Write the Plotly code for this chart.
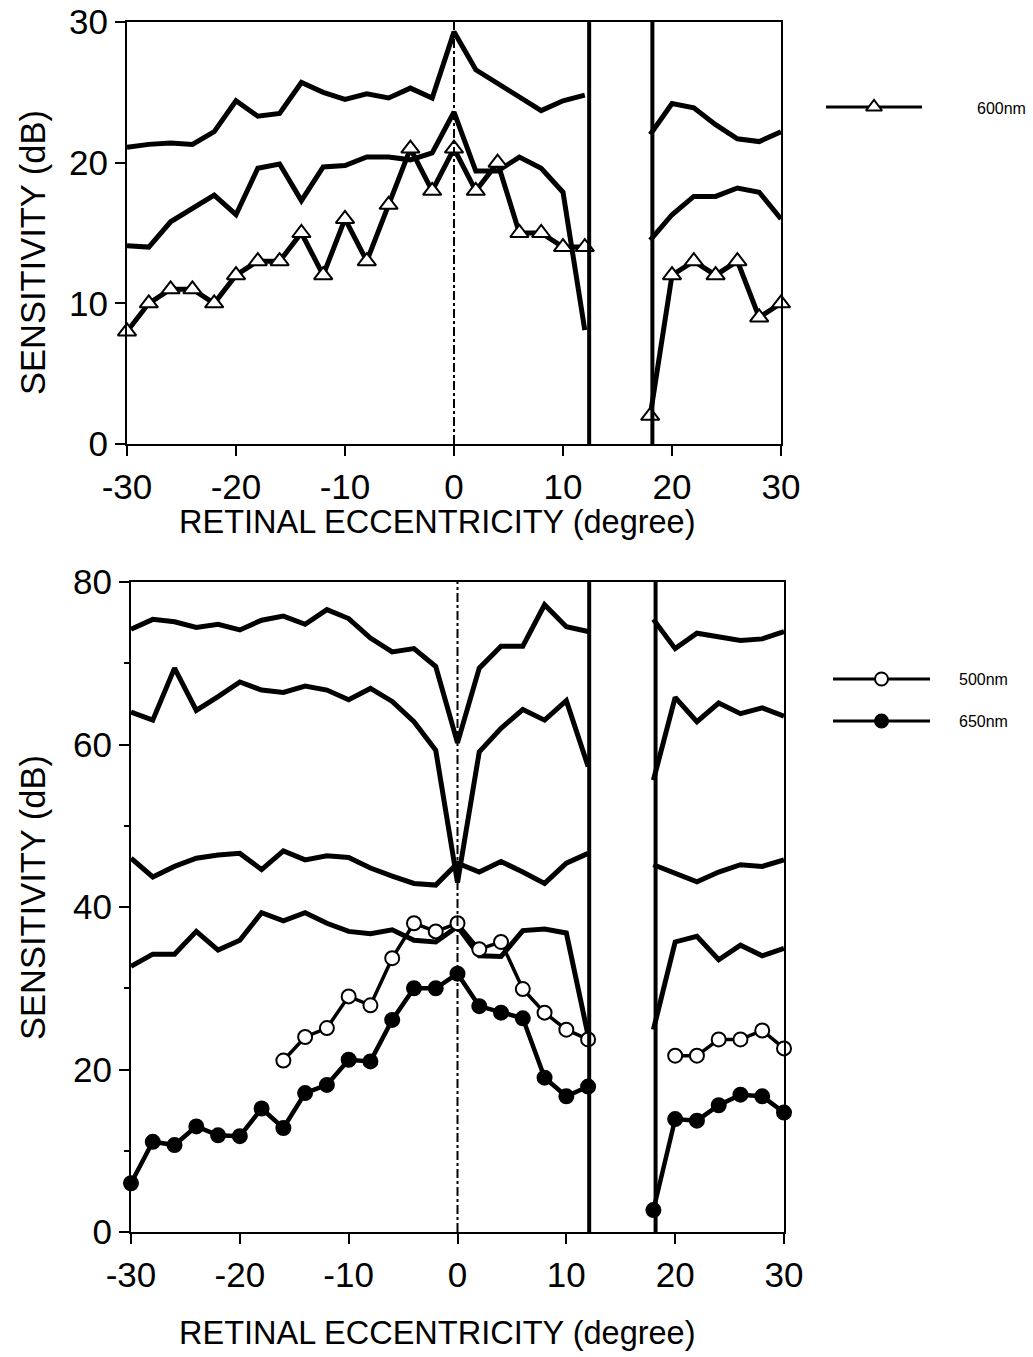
import plotly.graph_objects as go

# ---------------- data ----------------
X_LEFT = [-30, -28, -26, -24, -22, -20, -18, -16, -14, -12, -10, -8, -6, -4, -2, 0, 2, 4, 6, 8, 10, 12]
X_RIGHT = [18, 20, 22, 24, 26, 28, 30]

# top panel (600 nm stimulus)
top_upper_left = [21.1, 21.3, 21.4, 21.3, 22.2, 24.4, 23.3, 23.5, 25.7, 25.0, 24.5, 24.9, 24.6, 25.3, 24.6, 29.3, 26.6, 25.6, 24.6, 23.7, 24.4, 24.8]
top_upper_right = [22.0, 24.2, 23.9, 22.7, 21.7, 21.5, 22.2]
top_middle_left = [14.1, 14.0, 15.8, 16.7, 17.7, 16.3, 19.6, 19.9, 17.3, 19.7, 19.8, 20.4, 20.4, 20.2, 20.7, 23.6, 19.4, 19.4, 20.4, 19.6, 17.9, 8.1]
top_middle_right = [14.5, 16.3, 17.6, 17.6, 18.2, 17.9, 16.0]
nm600_left = [8, 10, 11, 11, 10, 12, 13, 13, 15, 12, 16, 13, 17, 21, 18, 21, 18, 20, 15, 15, 14, 14]
nm600_right = [2, 12, 13, 12, 13, 9, 10]

# bottom panel (500 nm / 650 nm)
bot_c1_left = [74.2, 75.4, 75.1, 74.4, 74.8, 74.1, 75.3, 75.8, 74.8, 76.6, 75.5, 73.1, 71.4, 71.8, 69.6, 60.2, 69.4, 72.1, 72.1, 77.2, 74.5, 73.9]
bot_c1_right = [75.4, 71.8, 73.7, 73.3, 72.8, 73.0, 73.9]
bot_c2_left = [64.0, 63.0, 69.4, 64.2, 65.9, 67.7, 66.7, 66.4, 67.2, 66.7, 65.5, 66.9, 65.3, 62.8, 59.3, 43.0, 59.1, 62.0, 64.3, 63.0, 65.4, 57.3]
bot_c2_right = [55.6, 65.8, 62.8, 65.1, 63.8, 64.5, 63.5]
bot_c3_left = [46.0, 43.7, 45.0, 46.0, 46.4, 46.6, 44.6, 46.9, 45.8, 46.3, 46.1, 44.8, 43.8, 42.9, 42.7, 45.4, 44.3, 45.6, 44.3, 42.9, 45.4, 46.6]
bot_c3_right = [45.2, 44.1, 43.1, 44.3, 45.2, 45.0, 45.8]
bot_c4_left = [32.7, 34.2, 34.2, 37.0, 34.7, 35.9, 39.3, 38.3, 39.3, 38.0, 37.0, 36.7, 37.2, 35.9, 35.7, 37.6, 34.0, 33.9, 37.1, 37.3, 36.8, 24.2]
bot_c4_right = [24.9, 35.7, 36.4, 33.5, 35.3, 34.0, 34.9]

X500_LEFT = [-16, -14, -12, -10, -8, -6, -4, -2, 0, 2, 4, 6, 8, 10, 12]
X500_RIGHT = [20, 22, 24, 26, 28, 30]
nm500_left = [21.1, 24.0, 25.1, 29.0, 27.9, 33.7, 38.0, 37.0, 38.0, 34.8, 35.7, 29.9, 27.0, 24.9, 23.7]
nm500_right = [21.7, 21.7, 23.7, 23.7, 24.8, 22.6]
nm650_left = [6.0, 11.1, 10.7, 13.0, 11.9, 11.8, 15.2, 12.8, 17.1, 18.1, 21.2, 21.0, 26.1, 30.0, 30.0, 31.8, 27.8, 27.0, 26.3, 19.0, 16.7, 17.9]
nm650_right = [2.7, 13.9, 13.7, 15.6, 16.9, 16.7, 14.7]

BLIND_TOP = [12.4, 18.2]
BLIND_BOT = [12.1, 18.2]

TOP_YTICKS = [0, 10, 20, 30]
BOT_YTICKS = [0, 20, 40, 60, 80]
XTICKS = [-30, -20, -10, 0, 10, 20, 30]
XTICK_TEXT = ["-30", "-20", "-10", "0", "10", "20", "30"]

# ---------------- figure ----------------
W, H = 1033, 1357
FONT = "Liberation Sans"


def px(x):
    return x / W


def py(y):
    return 1 - y / H


def joined(xl, yl, xr, yr):
    return list(xl) + [None] + list(xr), list(yl) + [None] + list(yr)


fig = go.Figure()

LW = 5


def add_curve(xl, yl, xr, yr, xa, ya, width=LW):
    xs, ys = joined(xl, yl, xr, yr)
    fig.add_trace(go.Scatter(x=xs, y=ys, mode="lines", xaxis=xa, yaxis=ya,
                             line=dict(color="black", width=width), showlegend=False,
                             connectgaps=False, hoverinfo="skip"))


def add_markers(xl, yl, xr, yr, xa, ya, symbol, fill, size, width=3.5):
    xs, ys = joined(xl, yl, xr, yr)
    fig.add_trace(go.Scatter(x=xs, y=ys, mode="lines+markers", xaxis=xa, yaxis=ya,
                             line=dict(color="black", width=width),
                             marker=dict(symbol=symbol, size=size, color=fill,
                                         line=dict(color="black", width=2)),
                             cliponaxis=False, showlegend=False, connectgaps=False))


# top panel
add_curve(X_LEFT, top_upper_left, X_RIGHT, top_upper_right, "x", "y")
add_curve(X_LEFT, top_middle_left, X_RIGHT, top_middle_right, "x", "y")
add_markers(X_LEFT, nm600_left, X_RIGHT, nm600_right, "x", "y", "triangle-up", "white", 16, 5)

# bottom panel
add_curve(X_LEFT, bot_c1_left, X_RIGHT, bot_c1_right, "x2", "y2")
add_curve(X_LEFT, bot_c2_left, X_RIGHT, bot_c2_right, "x2", "y2")
add_curve(X_LEFT, bot_c3_left, X_RIGHT, bot_c3_right, "x2", "y2")
add_curve(X_LEFT, bot_c4_left, X_RIGHT, bot_c4_right, "x2", "y2")
add_markers(X500_LEFT, nm500_left, X500_RIGHT, nm500_right, "x2", "y2", "circle", "white", 14, 3.5)
add_markers(X_LEFT, nm650_left, X_RIGHT, nm650_right, "x2", "y2", "circle", "black", 14, 4.5)

# legend samples on hidden axes
fig.add_trace(go.Scatter(x=[0, 1], y=[0.5, 0.5], mode="lines", xaxis="x3", yaxis="y3",
                         line=dict(color="black", width=3), showlegend=False))
fig.add_trace(go.Scatter(x=[0.5], y=[0.5], mode="markers", xaxis="x3", yaxis="y3",
                         marker=dict(symbol="triangle-up", size=14, color="white",
                                     line=dict(color="black", width=2)), showlegend=False))
for xa, ya, fill in (("x4", "y4", "white"), ("x5", "y5", "black")):
    fig.add_trace(go.Scatter(x=[0, 1], y=[0.5, 0.5], mode="lines", xaxis=xa, yaxis=ya,
                             line=dict(color="black", width=3), showlegend=False))
    fig.add_trace(go.Scatter(x=[0.5], y=[0.5], mode="markers", xaxis=xa, yaxis=ya,
                             marker=dict(symbol="circle", size=13, color=fill,
                                         line=dict(color="black", width=2)), showlegend=False))

tickfont = dict(family=FONT, size=35, color="black")
axis_common = dict(showline=True, mirror=True, linecolor="black", linewidth=2,
                   ticks="outside", ticklen=10, tickwidth=2, tickcolor="black",
                   showgrid=False, zeroline=False, tickfont=tickfont, automargin=False)

TOP_X = [px(127), px(781)]
TOP_Y = [py(444), py(22)]
BOT_X = [px(131), px(784)]
BOT_Y = [py(1232), py(582)]

hidden = dict(visible=False, range=[0, 1], fixedrange=True, automargin=False)

fig.update_layout(
    template="none",
    width=W, height=H,
    margin=dict(l=0, r=0, t=0, b=0, pad=0),
    paper_bgcolor="white", plot_bgcolor="white",
    xaxis=dict(domain=TOP_X, range=[-30, 30], tickvals=XTICKS, ticktext=XTICK_TEXT, anchor="y",
               ticklabelstandoff=1, **axis_common),
    yaxis=dict(domain=TOP_Y, range=[0, 30], tickvals=TOP_YTICKS, anchor="x", **axis_common),
    xaxis2=dict(domain=BOT_X, range=[-30, 30], tickvals=XTICKS, ticktext=XTICK_TEXT, anchor="y2",
                ticklabelstandoff=1, **axis_common),
    yaxis2=dict(domain=BOT_Y, range=[0, 80], tickvals=BOT_YTICKS, anchor="x2",
                minor=dict(dtick=10, ticks="outside", ticklen=5, tickwidth=2, tickcolor="black"),
                **axis_common),
    xaxis3=dict(domain=[px(826), px(922)], anchor="y3", **hidden),
    yaxis3=dict(domain=[py(117), py(97)], anchor="x3", **hidden),
    xaxis4=dict(domain=[px(833), px(930)], anchor="y4", **hidden),
    yaxis4=dict(domain=[py(689), py(669)], anchor="x4", **hidden),
    xaxis5=dict(domain=[px(833), px(930)], anchor="y5", **hidden),
    yaxis5=dict(domain=[py(731), py(711)], anchor="x5", **hidden),
    showlegend=False,
)

# blind-spot boundaries and fovea line
shapes = []
for xv in BLIND_TOP:
    shapes.append(dict(type="line", xref="x", yref="y domain", x0=xv, x1=xv, y0=0, y1=1,
                       line=dict(color="black", width=4)))
for xv in BLIND_BOT:
    shapes.append(dict(type="line", xref="x2", yref="y2 domain", x0=xv, x1=xv, y0=0, y1=1,
                       line=dict(color="black", width=4)))
shapes.append(dict(type="line", xref="x", yref="y domain", x0=0, x1=0, y0=0, y1=1,
                   line=dict(color="black", width=2, dash="dashdot")))
shapes.append(dict(type="line", xref="x2", yref="y2 domain", x0=0, x1=0, y0=0, y1=1,
                   line=dict(color="black", width=2, dash="dashdot")))
fig.update_layout(shapes=shapes)

xtitlefont = dict(family=FONT, size=32.5, color="black")
ytitlefont = dict(family=FONT, size=34.5, color="black")
legfont = dict(family=FONT, size=16, color="black")
annotations = [
    dict(text="SENSITIVITY (dB)", x=px(33), y=py(253), xref="paper", yref="paper",
         textangle=-90, showarrow=False, font=ytitlefont, xanchor="center", yanchor="middle"),
    dict(text="SENSITIVITY (dB)", x=px(33), y=py(898), xref="paper", yref="paper",
         textangle=-90, showarrow=False, font=ytitlefont, xanchor="center", yanchor="middle"),
    dict(text="RETINAL ECCENTRICITY (degree)", x=px(437), y=py(522), xref="paper", yref="paper",
         showarrow=False, font=xtitlefont, xanchor="center", yanchor="middle"),
    dict(text="RETINAL ECCENTRICITY (degree)", x=px(437), y=py(1333), xref="paper", yref="paper",
         showarrow=False, font=xtitlefont, xanchor="center", yanchor="middle"),
    dict(text="600nm", x=px(975), y=py(108), xref="paper", yref="paper",
         showarrow=False, font=legfont, xanchor="left", yanchor="middle"),
    dict(text="500nm", x=px(957), y=py(679), xref="paper", yref="paper",
         showarrow=False, font=legfont, xanchor="left", yanchor="middle"),
    dict(text="650nm", x=px(957), y=py(721), xref="paper", yref="paper",
         showarrow=False, font=legfont, xanchor="left", yanchor="middle"),
]
fig.update_layout(annotations=annotations)

fig.write_html("out.html")
